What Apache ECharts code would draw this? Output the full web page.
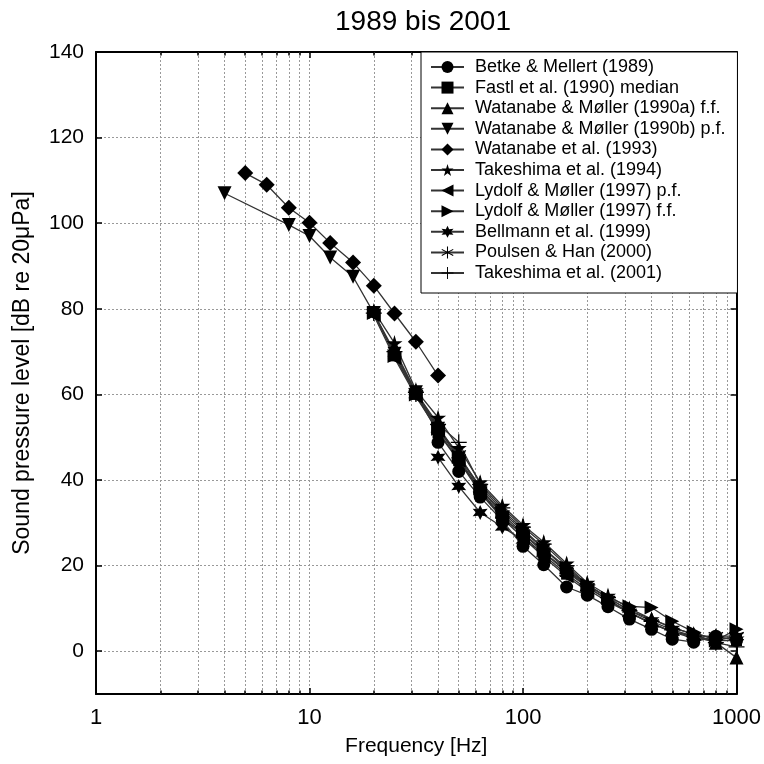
<!DOCTYPE html>
<html>
<head>
<meta charset="utf-8">
<script src="https://cdn.jsdelivr.net/npm/echarts@6/dist/echarts.min.js"></script>
<style>html,body{margin:0;padding:0;background:#fff}#c{width:764px;height:764px}</style>
</head>
<body>
<div id="c"></div>
<script>
// ---- data ----
const titleText = '1989 bis 2001';
const xName = 'Frequency [Hz]';
const yName = 'Sound pressure level [dB re 20\u03bcPa]';
const yTicks = [0, 20, 40, 60, 80, 100, 120, 140];
const xMinorGrid = [2,3,4,5,6,7,8,9,20,30,40,50,60,70,80,90,200,300,400,500,600,700,800,900];

const names = [
  'Betke & Mellert (1989)',
  'Fastl et al. (1990) median',
  'Watanabe & Møller (1990a) f.f.',
  'Watanabe & Møller (1990b) p.f.',
  'Watanabe et al. (1993)',
  'Takeshima et al. (1994)',
  'Lydolf & Møller (1997) p.f.',
  'Lydolf & Møller (1997) f.f.',
  'Bellmann et al. (1999)',
  'Poulsen & Han (2000)',
  'Takeshima et al. (2001)'
];

const fBetke = [40,50,63,80,100,125,160,200,250,315,400,500,630,800,1000];
const vBetke = [48.8,42,36,30.5,24.5,20.2,15,13.1,10.4,7.5,5.1,2.8,2.1,3.5,2.5];

const fFastl = [25,31.5,40,50,63,80,100,125,160,200,250,315,400,500,630,800,1000];
const vFastl = [69,60,51,44.5,37.5,31.5,27,22.5,18,14.5,11.5,9,6.5,4.5,3,2.5,2.5];

const fWatA = [25,31.5,40,50,63,80,100,125,160,200,250,315,400,500,630,800,1000];
const vWatA = [70.5,60.5,52.5,45.5,38.5,33,28.5,24,19,15.5,12.5,9.5,7.5,5.5,4,2,-1.5];

const fWatB = [4,8,10,12.5,16,20,25,31.5,40,50,63,80,100,125];
const vWatB = [107,99.6,97,92,87.5,79,69.5,60.5,52,45,37.5,31,27.5,23.5];

const fWat93 = [5,6.3,8,10,12.5,16,20,25,31.5,40];
const vWat93 = [111.7,109,103.6,100.1,95.4,90.8,85.4,78.9,72.3,64.4];

const fTak94 = [20,25,31.5,40,50,63,80,100,125,160,200,250,315,400,500,630,800,1000];
const vTak94 = [79.5,72,61,54.6,47.5,39.5,34,29.5,25.5,20.5,16,13,10,7.5,5.5,4,3,3];

const fLydP = [20,25,31.5,40,50,63,80,100,125,160,200];
const vLydP = [78.5,68.5,59.5,51.5,44.5,37,31,26.5,22,17.5,14];

const fLydF = [20,25,31.5,40,50,63,80,100,125,160,200,250,315,400,500,630,800,1000];
const vLydF = [79,69,60,52,45.5,38,32.5,28,24,19.5,15.5,12.5,10.5,10.2,7,4.5,2.5,5.1];

const fBell = [40,50,63,80,100,125,160,200,250,315,400,500,630,800,1000];
const vBell = [45.3,38.5,32.4,29,26,23,19,15,12,9,6.5,4.5,3.5,2.5,3.5];

const fPoul = [31.5,40,50,63,80,100,125,160,200,250,315,400,500,630,800,1000];
const vPoul = [60,52,46,38,32,27.5,23,18.5,15,12,9,6.5,4.5,3.5,3.5,3.5];

const fTak01 = [20,25,31.5,40,50,63,80,100,125,160,200,250,315,400,500,630,800,1000];
const vTak01 = [79,70,60.5,53,48.8,39,33.5,29,25,20,15.5,12.5,9.5,7,5,3.5,2,1];

// ---- styles ----
const FONT = '"Liberation Sans", Arial, sans-serif';
const symCircle = 'path://M0,50 A50,50 0 1,1 100,50 A50,50 0 1,1 0,50 Z';
const symRect = 'path://M0,0 L100,0 L100,100 L0,100 Z';
const symUp = 'path://M50,0 L100,100 L0,100 Z';
const symDiamond = 'path://M50,0 L100,50 L50,100 L0,50 Z';
const symDown = 'path://M0,0 L100,0 L50,100 Z';
const symLeft = 'path://M100,0 L100,100 L0,50 Z';
const symRight = 'path://M0,0 L0,100 L100,50 Z';
const symStar5 = 'path://M50,0 L61,35 L98,35 L68,57 L79,91 L50,70 L21,91 L32,57 L2,35 L39,35 Z';
const symStar6 = 'path://M50,0 L62,28 L93,25 L75,50 L93,75 L62,72 L50,100 L38,72 L7,75 L25,50 L7,25 L38,28 Z';
const symAst = 'path://M46,0 L54,0 L54,100 L46,100 Z M4,28 L8,21 L96,72 L92,79 Z M92,21 L96,28 L8,79 L4,72 Z';
const symPlus = 'path://M46,0 L54,0 L54,100 L46,100 Z M0,46 L100,46 L100,54 L0,54 Z';

const specs = [
  [fBetke, vBetke, symCircle, 13],
  [fFastl, vFastl, symRect, 11],
  [fWatA, vWatA, symUp, 14],
  [fWatB, vWatB, symDown, 14],
  [fWat93, vWat93, symDiamond, 16],
  [fTak94, vTak94, symStar5, 16],
  [fLydP, vLydP, symLeft, 14],
  [fLydF, vLydF, symRight, 14],
  [fBell, vBell, symStar6, 15],
  [fPoul, vPoul, symAst, 15],
  [fTak01, vTak01, symPlus, 16]
];

const series = specs.map((s, i) => ({
  name: names[i],
  type: 'line',
  data: s[0].map((f, k) => [f, s[1][k]]),
  symbol: s[2],
  symbolSize: s[3],
  showAllSymbol: true,
  lineStyle: { color: '#333', width: 1.3 },
  itemStyle: { color: '#000', borderWidth: 0, borderColor: '#000' },
  emphasis: { disabled: true },
  z: 3,
  animation: false
}));

// minor grid lines & minor ticks (positioned through the log axis)
const gridLines = xMinorGrid.map(f => [{ coord: [f, -10] }, { coord: [f, 140] }]);
const minorTicks = [];
xMinorGrid.forEach(f => {
  minorTicks.push([{ coord: [f, -10] }, { coord: [f, -9.2] }]);
  minorTicks.push([{ coord: [f, 140] }, { coord: [f, 139.2] }]);
});

series.unshift({
  name: '_grid',
  type: 'line',
  data: [],
  z: 1,
  silent: true,
  animation: false,
  markLine: {
    z: 1,
    silent: true, symbol: 'none', animation: false,
    label: { show: false },
    lineStyle: { color: '#999', type: [2, 2], width: 1 },
    data: gridLines
  }
});
series.unshift({
  name: '_ticks',
  type: 'line',
  data: [],
  z: 4,
  silent: true,
  animation: false,
  markLine: {
    z: 4,
    silent: true, symbol: 'none', animation: false,
    label: { show: false },
    lineStyle: { color: '#000', type: 'solid', width: 1.5 },
    data: minorTicks
  }
});

const chart = echarts.init(document.getElementById('c'), null, { renderer: 'canvas' });
const xBase = {
  type: 'log', logBase: 10, min: 1, max: 1000,
  axisLine: { show: true, onZero: false, lineStyle: { color: '#000', width: 2 } },
  axisTick: { show: true, inside: true, length: 6, lineStyle: { color: '#000', width: 1.5 } },
  splitLine: { show: false }
};
const yBase = {
  type: 'value', min: -10, max: 140, splitNumber: 7,
  axisLine: { show: true, onZero: false, lineStyle: { color: '#000', width: 2 } },
  axisTick: { show: false },
  splitLine: { show: false }
};
chart.setOption({
  backgroundColor: '#fff',
  animation: false,
  textStyle: { fontFamily: FONT },
  title: {
    text: titleText, left: 418, top: 3, textAlign: 'center',
    textStyle: { fontFamily: FONT, fontSize: 28, fontWeight: 'normal', color: '#000' }
  },
  grid: { left: 96, right: 25, top: 52, bottom: 70, containLabel: false },
  legend: {
    data: names,
    orient: 'vertical',
    left: 421, top: 52,
    padding: [6, 12, 11, 9],
    itemGap: 2.6,
    itemWidth: 33, itemHeight: 15,
    selectedMode: false,
    backgroundColor: '#fff',
    borderColor: '#000', borderWidth: 1,
    textStyle: { fontFamily: FONT, fontSize: 18, color: '#000', padding: [0, 0, 0, 6] },
    z: 10
  },
  xAxis: [
    Object.assign({}, xBase, {
      position: 'bottom',
      name: xName, nameLocation: 'middle', nameGap: 42,
      nameTextStyle: { fontFamily: FONT, fontSize: 21, color: '#000' },
      axisLabel: { fontFamily: FONT, fontSize: 22, color: '#000', margin: 13,
        formatter: v => String(Math.round(v)) },
      splitLine: { show: true, lineStyle: { color: '#999', type: [2, 2], width: 1 } }
    }),
    Object.assign({}, xBase, { position: 'top', axisLabel: { show: false } })
  ],
  yAxis: [
    Object.assign({}, yBase, {
      position: 'left',
      name: yName, nameLocation: 'middle', nameGap: 62,
      nameTextStyle: { fontFamily: FONT, fontSize: 23, color: '#000' },
      axisTick: { show: true, inside: true, length: 6, lineStyle: { color: '#000', width: 1.5 } },
      axisLabel: {
        fontFamily: FONT, fontSize: 21, color: '#000', margin: 12,
        formatter: v => (yTicks.indexOf(v) >= 0 ? String(v) : '')
      },
      splitLine: { show: true, lineStyle: { color: '#999', type: [2, 2], width: 1 } }
    }),
    Object.assign({}, yBase, { position: 'right', axisLabel: { show: false },
      axisTick: { show: true, inside: true, length: 6, lineStyle: { color: '#000', width: 1.5 } } })
  ],
  series: series
});
</script>
</body>
</html>
